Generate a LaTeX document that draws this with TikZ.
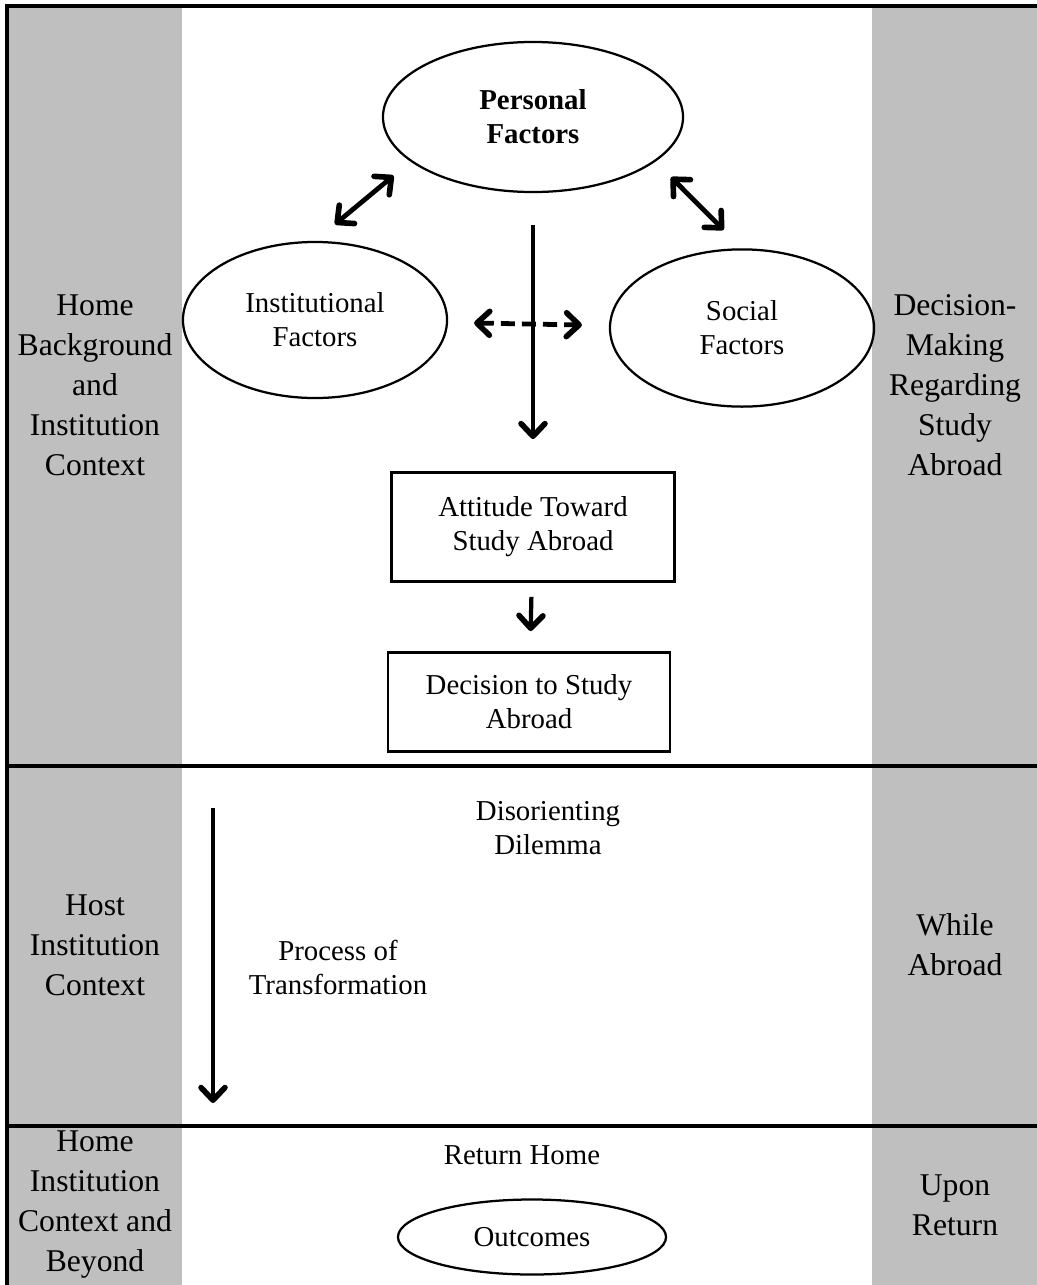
\documentclass[tikz,border=0pt]{standalone}
\usepackage{fontspec}
\setmainfont{Liberation Serif}
\usetikzlibrary{shapes.geometric,arrows.meta}
\definecolor{bandgray}{HTML}{BFBFBF}
\begin{document}
\begin{tikzpicture}[x=0.025cm,y=-0.025cm,
fac/.style={ellipse, draw, line width=1.6pt, inner sep=0pt, align=center, font=\fontsize{20.5}{24.2}\selectfont},
box/.style={rectangle, draw, line width=2pt, inner sep=0pt, align=center, font=\fontsize{20.5}{24.2}\selectfont},
lbl/.style={align=center, inner sep=0pt, font=\fontsize{20.5}{24.2}\selectfont},
side/.style={align=center, inner sep=0pt, font=\fontsize{22.5}{28.45}\selectfont},
arr/.style={-{Straight Barb[length=9pt,width=17pt,line width=4pt,round]}, line width=3pt},
dbl/.style={{Straight Barb[length=9pt,width=17pt,line width=4pt,round]}-{Straight Barb[length=9pt,width=17pt,line width=4pt,round]}, line width=3.4pt}]
\useasboundingbox (0,0) rectangle (1037,1285);
\fill[bandgray] (7,6) rectangle (182,1285);
\fill[bandgray] (872,6) rectangle (1037,1285);
\draw[line width=2.2pt] (1037,6) -- (7,6) -- (7,1285);
\draw[line width=2.2pt] (7,766) -- (1037,766);
\draw[line width=2.2pt] (7,1126) -- (1037,1126);
\node[side] (s0) at (95,385){Home\\Background\\and\\Institution\\Context};
\node[side] (s1) at (955,385){Decision-\\Making\\Regarding\\Study\\Abroad};
\node[side] (s2) at (95,945){Host\\Institution\\Context};
\node[side] (s3) at (955,945){While\\Abroad};
\node[side] (s4) at (95,1205){Home\\Institution\\Context and\\Beyond};
\node[side] (s5) at (955,1205){Upon\\Return};
\node[fac, minimum width=7.5cm, minimum height=3.75cm, font=\fontsize{20.5}{24.2}\selectfont\bfseries] (fac0) at (533,117){Personal\\Factors};
\node[fac, minimum width=6.6cm, minimum height=3.9cm] (fac1) at (315,320){Institutional\\Factors};
\node[fac, minimum width=6.6cm, minimum height=3.93cm] (fac2) at (742,328){Social\\Factors};
\node[box, minimum width=7.075cm, minimum height=2.725cm] (box0) at (533,527){Attitude Toward\\Study Abroad};
\node[box, minimum width=7.05cm, minimum height=2.475cm] (box1) at (529,702){Decision to Study\\Abroad};
\draw[dbl, shorten <=0.55cm, shorten >=0.65cm] (fac0.200) -- (fac1.90);
\draw[dbl, shorten <=0.55cm, shorten >=0.65cm] (fac0.340) -- (fac2.90);
\draw[dbl, dash pattern=on 10pt off 5pt, shorten <=0.65cm, shorten >=0.675cm] (fac1) -- (fac2);
\draw[arr, shorten <=0.8cm, shorten >=0.8cm] (fac0) -- (box0);
\draw[arr, shorten <=0.35cm, shorten >=0.5cm] (box0) -- (box1);
\node[lbl] (dil) at (548,828){Disorienting\\Dilemma};
\node[lbl] (proc) at (338,967){Process of\\Transformation};
\coordinate (p0) at (213,808);
\coordinate (p1) at (213,1103);
\draw[arr] (p0) -- (p1);
\node[lbl] (ret) at (522,1155){Return Home};
\node[fac, minimum width=6.7cm, minimum height=1.875cm] (out0) at (532,1237){Outcomes};
\end{tikzpicture}
\end{document}
